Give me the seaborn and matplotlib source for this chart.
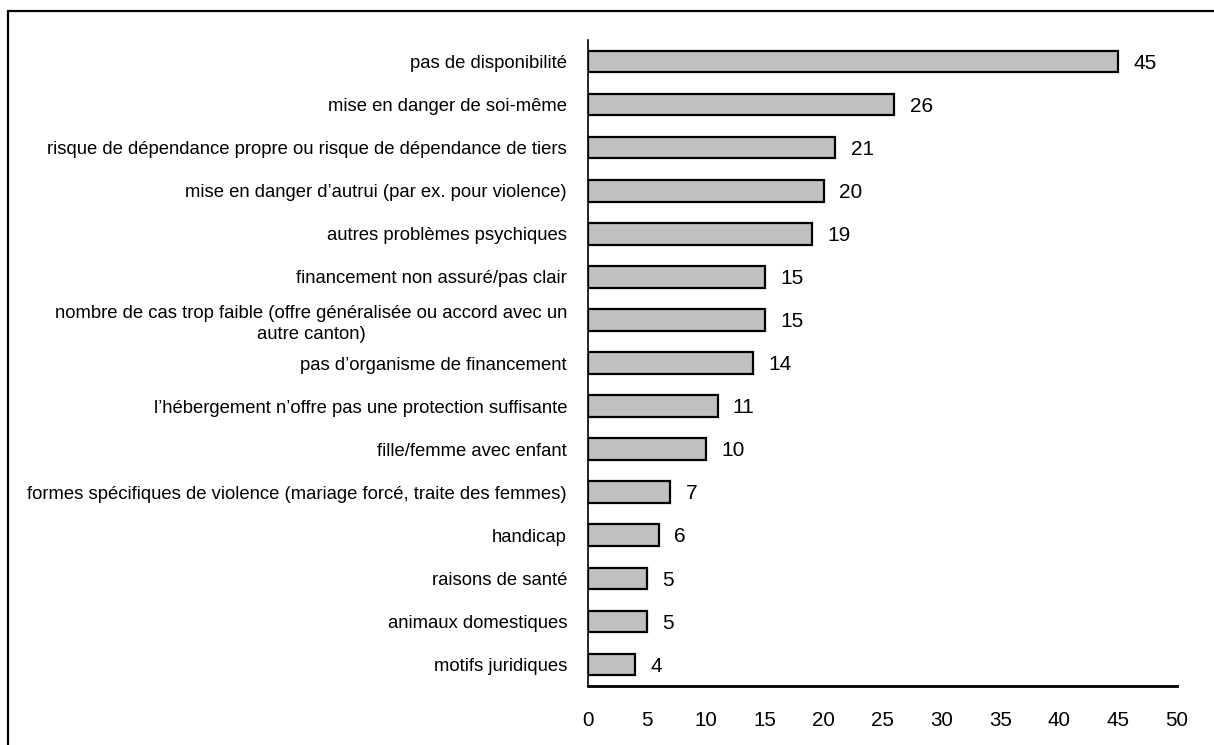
import matplotlib
matplotlib.use("Agg")
import matplotlib.pyplot as plt
import seaborn as sns
import pandas as pd
from matplotlib.patches import Rectangle

categories = [
    "pas de disponibilité",
    "mise en danger de soi-même",
    "risque de dépendance propre ou risque de dépendance de tiers",
    "mise en danger d\u2019autrui (par ex. pour violence)",
    "autres problèmes psychiques",
    "financement non assuré/pas clair",
    "nombre de cas trop faible (offre généralisée ou accord avec un\nautre canton)",
    "pas d\u2019organisme de financement",
    "l\u2019hébergement n\u2019offre pas une protection suffisante",
    "fille/femme avec enfant",
    "formes spécifiques de violence (mariage forcé, traite des femmes)",
    "handicap",
    "raisons de santé",
    "animaux domestiques",
    "motifs juridiques",
]
values = [45, 26, 21, 20, 19, 15, 15, 14, 11, 10, 7, 6, 5, 5, 4]
x_ticks = [0, 5, 10, 15, 20, 25, 30, 35, 40, 45, 50]

df = pd.DataFrame({"motif": categories, "nombre": values})

sns.set_theme(style="white")
plt.rcParams["font.family"] = ["Liberation Sans", "DejaVu Sans"]
plt.rcParams["text.color"] = "black"
plt.rcParams["xtick.color"] = "black"
plt.rcParams["ytick.color"] = "black"

fig = plt.figure(figsize=(12.14, 7.45), dpi=100)
ax = fig.add_axes([0.4843, 0.0792, 0.4852, 0.8671])

sns.barplot(data=df, y="motif", x="nombre", orient="h", ax=ax,
            color="#c0c0c0", edgecolor="black", linewidth=1.6,
            width=0.5, saturation=1)

for i, v in enumerate(values):
    ax.text(v + 1.3, i + 0.04, str(v), va="center", ha="left",
            fontsize=15, color="black")

ax.set_xlim(0, 50)
ax.set_ylim(len(categories) - 0.5, -0.5)
ax.set_xticks(x_ticks)
ax.set_xticklabels([str(t) for t in x_ticks], fontsize=14.8)
ax.set_xlabel("")
ax.set_ylabel("")
ax.tick_params(axis="x", length=0, pad=18, labelcolor="black")
ax.tick_params(axis="y", length=0, pad=15, labelcolor="black")
for lbl in ax.get_yticklabels():
    lbl.set_fontsize(13.3)
    lbl.set_multialignment("center")
    lbl.set_linespacing(1.35)

for side in ["top", "right"]:
    ax.spines[side].set_visible(False)
for side in ["left", "bottom"]:
    ax.spines[side].set_visible(True)
    ax.spines[side].set_color("black")
ax.spines["left"].set_linewidth(1.2)
ax.spines["bottom"].set_linewidth(2)

# outer frame around the chart area
frame = Rectangle((8 / 1214, -0.1), 1.2, 1 - 11 / 745 + 0.1,
                  transform=fig.transFigure, fill=False,
                  edgecolor="black", linewidth=1.6, clip_on=False)
fig.patches.append(frame)

fig.savefig("out.png", dpi=100)
